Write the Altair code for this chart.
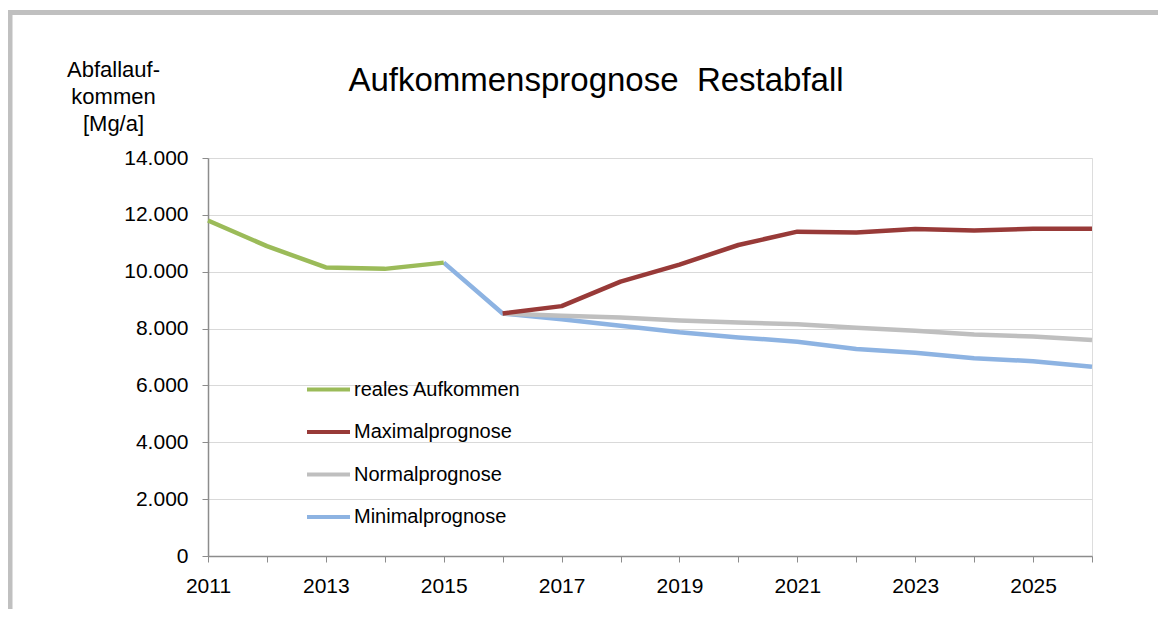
import altair as alt
import pandas as pd

FONT = "Liberation Sans"

years = list(range(2011, 2027))
series_names = ["reales Aufkommen", "Maximalprognose", "Normalprognose", "Minimalprognose"]
colors = ["#9bbb59", "#983a38", "#bfbfbf", "#8db3e2"]

reales = [11800, 10900, 10150, 10100, 10320, None, None, None, None, None, None, None, None, None, None, None]
maximal = [None, None, None, None, None, 8530, 8790, 9650, 10250, 10940, 11410, 11380, 11500, 11450, 11510, 11510]
normal = [None, None, None, None, None, 8530, 8450, 8390, 8280, 8210, 8150, 8030, 7920, 7790, 7720, 7600]
minimal = [None, None, None, None, 10320, 8530, 8330, 8100, 7870, 7690, 7540, 7280, 7150, 6960, 6850, 6660]

y_ticks = [0, 2000, 4000, 6000, 8000, 10000, 12000, 14000]
chart_title = "Aufkommensprognose\u00a0 Restabfall"

rows = []
for name, vals in zip(series_names, [reales, maximal, normal, minimal]):
    for yr, v in zip(years, vals):
        if v is not None:
            rows.append({"Jahr": yr, "Wert": v, "Reihe": name})
df = pd.DataFrame(rows)

W, H = 884, 398

color = alt.Color(
    "Reihe:N",
    scale=alt.Scale(domain=series_names, range=colors),
    legend=alt.Legend(
        orient="none", legendX=97, legendY=208, title=None,
        symbolType="stroke", symbolSize=1849, symbolStrokeWidth=4,
        labelFontSize=20, labelFont=FONT, labelColor="#000000",
        labelOffset=2, rowPadding=8.5, labelLimit=400, direction="vertical",
    ),
)

x_enc = alt.X(
    "Jahr:Q",
    scale=alt.Scale(domain=[2011, 2026], nice=False, zero=False),
    axis=alt.Axis(
        values=years, title=None, grid=False,
        labelExpr="datum.value % 2 == 1 ? datum.value : ''",
        format="d", labelFontSize=21, labelFont=FONT, labelColor="#000000",
        tickSize=6, labelPadding=13, labelFlush=False, labelOverlap=False,
        domainColor="#8c8c8c", tickColor="#8c8c8c", domainWidth=1.5,
    ),
)

y_enc = alt.Y(
    "Wert:Q",
    scale=alt.Scale(domain=[0, 14000], nice=False),
    axis=alt.Axis(
        values=y_ticks,
        labelExpr="replace(format(datum.value, ','), ',', '.')",
        labelFontSize=21, labelFont=FONT, labelColor="#000000",
        tickSize=6, labelPadding=14,
        domainColor="#8c8c8c", tickColor="#8c8c8c", domainWidth=1.5,
        gridColor="#d9d9d9", gridWidth=1.2,
        title=["Abfallauf-", "kommen", "[Mg/a]"],
        titleAngle=0, titleX=-95, titleY=-82, titleAlign="center",
        titleBaseline="alphabetic", titleFontSize=22, titleFont=FONT,
        titleFontWeight="normal", titleColor="#000000", titleLineHeight=27,
    ),
)

def series_layer(name):
    return alt.Chart(df).transform_filter(
        alt.datum.Reihe == name
    ).mark_line(strokeWidth=4.5, strokeJoin="round", strokeCap="butt").encode(
        x=x_enc, y=y_enc, color=color
    )

frame = alt.Chart(alt.Data(values=[{}])).mark_rect(
    fill=None, stroke="#c0c0c0", strokeWidth=5, clip=False
).encode(
    x=alt.value(-198), x2=alt.value(1100), y=alt.value(-145.5), y2=alt.value(600)
)

title_text = alt.Chart(alt.Data(values=[{}])).mark_text(
    font=FONT, fontSize=33, color="#000000", align="center", baseline="alphabetic"
).encode(
    x=alt.value(388), y=alt.value(-67), text=alt.value(chart_title)
)

chart = alt.layer(
    frame,
    title_text,
    series_layer("Minimalprognose"),
    series_layer("Normalprognose"),
    series_layer("reales Aufkommen"),
    series_layer("Maximalprognose"),
).properties(
    width=W, height=H,
    autosize=alt.AutoSizeParams(type="none"),
    padding={"left": 200, "top": 150, "right": 66, "bottom": 53},
).configure_view(stroke="#d9d9d9", strokeWidth=1.5).configure(background="white")

chart.save("out.html", embed_options={"renderer": "svg", "actions": False})
